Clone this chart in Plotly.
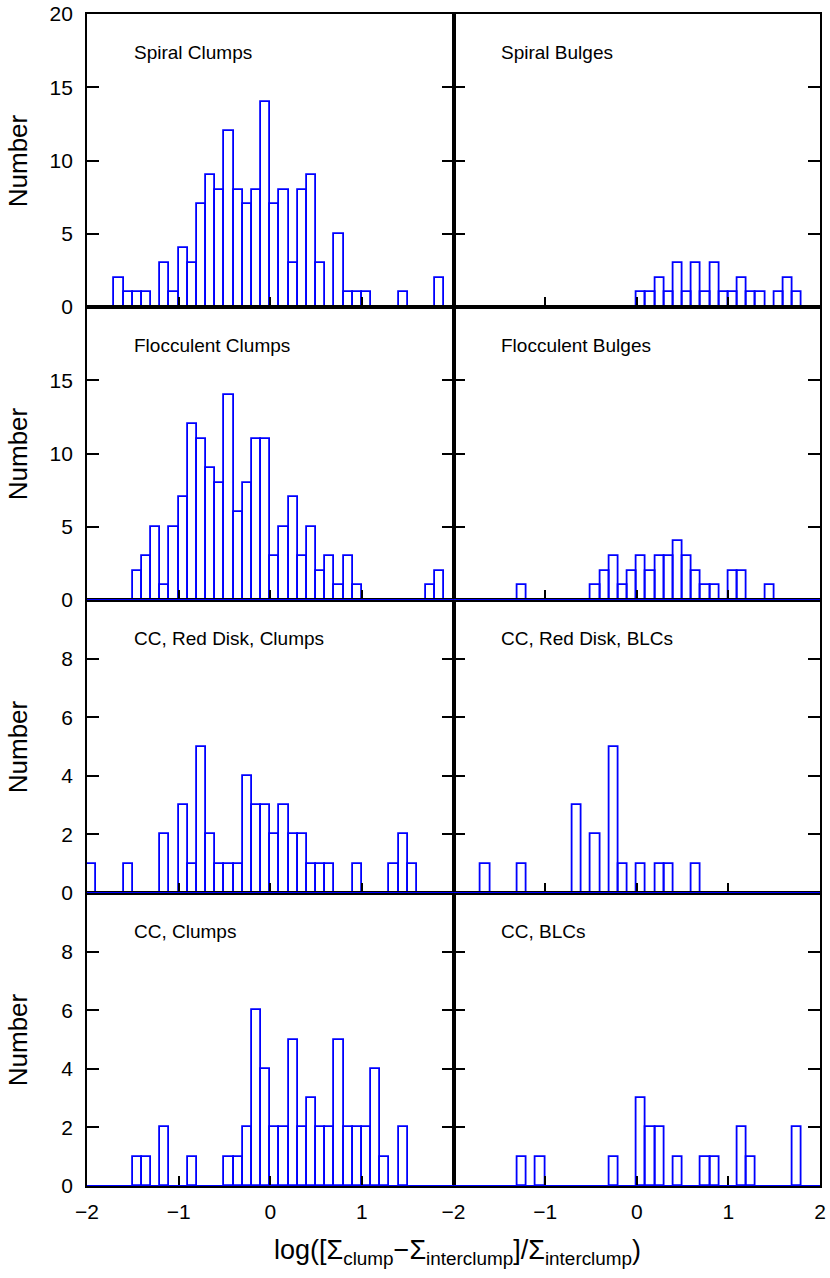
import numpy as np
import plotly.graph_objects as go
from plotly.subplots import make_subplots

# bins: 40 bins of width 0.1 from -2.0 to 2.0
bin_width = 0.1
bin_left = np.round(np.arange(-2.0, 2.0, bin_width), 2)

spiral_clumps = [0,0,0,2,1,1,1,0,3,1, 4,3,7,9,8,12,8,7,8,14,
                 7,8,3,8,9,3,0,5,1,1, 1,0,0,0,1,0,0,0,2,0]
spiral_bulges = [0,0,0,0,0,0,0,0,0,0, 0,0,0,0,0,0,0,0,0,0,
                 1,1,2,1,3,1,3,1,3,1, 1,2,1,1,0,1,2,1,0,0]
flocculent_clumps = [0,0,0,0,0,2,3,5,1,5, 7,12,11,9,8,14,6,8,11,11,
                     3,5,7,3,5,2,3,1,3,1, 0,0,0,0,0,0,0,1,2,0]
flocculent_bulges = [0,0,0,0,0,0,0,1,0,0, 0,0,0,0,0,1,2,3,1,2,
                     3,2,3,3,4,3,2,1,1,0, 2,2,0,0,1,0,0,0,0,0]
cc_red_clumps = [1,0,0,0,1,0,0,0,2,0, 3,1,5,2,1,1,1,4,3,3,
                 2,3,2,2,1,1,1,0,0,1, 0,0,0,1,2,1,0,0,0,0]
cc_red_blcs = [0,0,0,1,0,0,0,1,0,0, 0,0,0,3,0,2,0,5,1,0,
               1,0,1,1,0,0,1,0,0,0, 0,0,0,0,0,0,0,0,0,0]
cc_clumps = [0,0,0,0,0,1,1,0,2,0, 0,1,0,0,0,1,1,2,6,4,
             2,2,5,2,3,2,2,5,2,2, 2,4,1,0,2,0,0,0,0,0]
cc_blcs = [0,0,0,0,0,0,0,1,0,1, 0,0,0,0,0,0,0,1,0,0,
           3,2,2,0,1,0,0,1,1,0, 0,2,1,0,0,0,0,2,0,0]

panel_titles = ["Spiral Clumps", "Spiral Bulges",
                "Flocculent Clumps", "Flocculent Bulges",
                "CC, Red Disk, Clumps", "CC, Red Disk, BLCs",
                "CC, Clumps", "CC, BLCs"]
panel_counts = [spiral_clumps, spiral_bulges, flocculent_clumps, flocculent_bulges,
                cc_red_clumps, cc_red_blcs, cc_clumps, cc_blcs]

x_range = [-2, 2]
y_ranges = {1: [0, 20], 2: [0, 20], 3: [0, 10], 4: [0, 10]}
y_ticks = {1: [0, 5, 10, 15, 20], 2: [0, 5, 10, 15], 3: [0, 2, 4, 6, 8], 4: [0, 2, 4, 6, 8]}
x_labels_left = [-2, -1, 0, 1]
x_labels_right = [-2, -1, 0, 1, 2]

FONT = "Liberation Sans, Arial, sans-serif"
BLUE = "#0000ff"

fig = make_subplots(rows=4, cols=2, horizontal_spacing=0, vertical_spacing=0)

def fmt(v):
    return ("\u2212" + str(-v)) if v < 0 else str(v)

for k, (title, counts) in enumerate(zip(panel_titles, panel_counts)):
    row, col = k // 2 + 1, k % 2 + 1
    counts = np.array(counts)
    mask = counts > 0
    centers = bin_left + bin_width / 2
    fig.add_trace(go.Bar(x=centers[mask], y=counts[mask], width=bin_width,
                         marker=dict(color="rgba(0,0,0,0)", line=dict(color=BLUE, width=1.8)),
                         showlegend=False, hoverinfo="x+y"), row=row, col=col)

    idx = k + 1
    xa = "x" if idx == 1 else f"x{idx}"
    ya = "y" if idx == 1 else f"y{idx}"

    bottom = row == 4
    if bottom:
        xt = x_labels_left if col == 1 else x_labels_right
    else:
        xt = [-1, 0, 1]
    fig.update_xaxes(range=x_range, tickvals=xt, ticktext=[fmt(v) for v in xt],
                     showticklabels=bottom, ticks="inside", ticklen=10, tickwidth=1.5,
                     tickcolor="black", showline=True, linecolor="black", linewidth=1.8,
                     mirror=True, showgrid=False, zeroline=False, automargin=False,
                     ticklabeloverflow="allow",
                     tickfont=dict(family=FONT, size=21, color="black"),
                     ticklabelstandoff=6, row=row, col=col)
    yt = y_ticks[row]
    fig.update_yaxes(range=y_ranges[row], tickvals=yt, ticktext=[str(v) for v in yt],
                     showticklabels=(col == 1), ticks="inside", ticklen=12, tickwidth=1.5,
                     tickcolor="black", showline=True, linecolor="black", linewidth=1.8,
                     mirror="ticks", showgrid=False, zeroline=False, automargin=False,
                     ticklabeloverflow="allow",
                     tickfont=dict(family=FONT, size=21, color="black"),
                     ticklabelstandoff=8, row=row, col=col)

    fig.add_annotation(text=title, xref=f"{xa} domain", yref=f"{ya} domain",
                       x=0.123, y=0.87, xanchor="left", yanchor="middle", showarrow=False,
                       font=dict(family=FONT, size=19, color="black"))

    if row >= 2:
        fig.add_shape(type="line", xref=f"{xa} domain", yref=ya, x0=0, x1=1, y0=0, y1=0,
                      line=dict(color=BLUE, width=2), layer="above")

    if col == 1:
        fig.add_annotation(text="Number", xref="paper", yref=f"{ya} domain",
                           x=-0.0945, y=0.5, xanchor="center", yanchor="middle",
                           textangle=-90, showarrow=False,
                           font=dict(family=FONT, size=26, color="black"))

fig.add_annotation(text="log([\u03a3<sub>clump</sub>\u2212\u03a3<sub>interclump</sub>]/\u03a3<sub>interclump</sub>)",
                   xref="paper", yref="paper", x=0.505, y=-0.040, xanchor="center", yanchor="top",
                   showarrow=False, font=dict(family=FONT, size=27, color="black"))

fig.update_layout(width=830, height=1278, bargap=0,
                  margin=dict(l=87, r=10, t=14, b=92, autoexpand=False),
                  plot_bgcolor="white", paper_bgcolor="white",
                  font=dict(family=FONT, color="black"))

# remove the default page margin so the figure sits at the window's top-left corner
fig.write_html("out.html", config={"displayModeBar": False},
               post_script="document.body.style.margin='0';")
